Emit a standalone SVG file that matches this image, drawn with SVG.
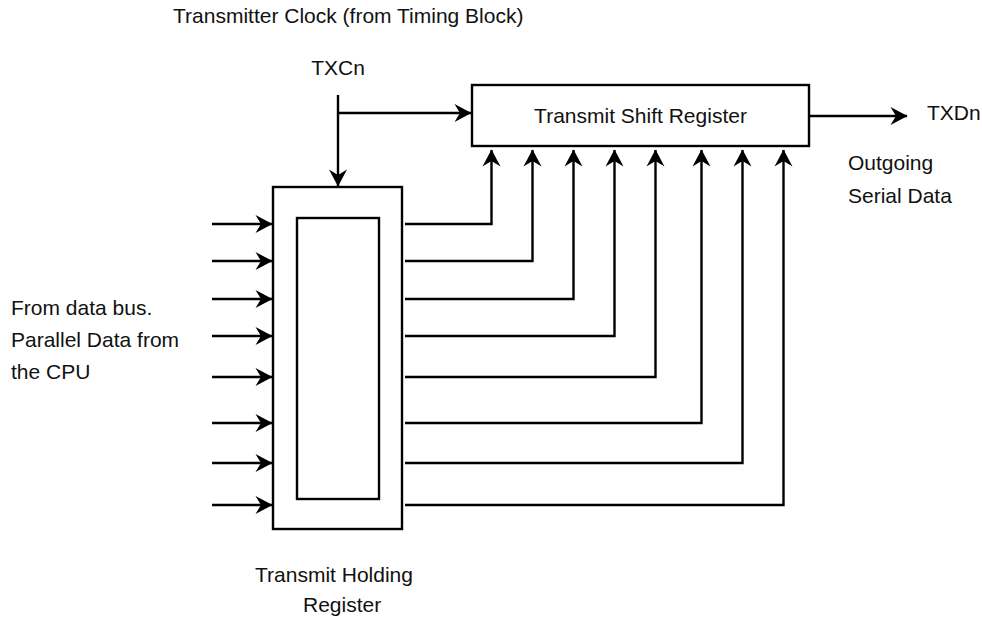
<svg xmlns="http://www.w3.org/2000/svg" width="982" height="618" viewBox="0 0 982 618">
<style>
  .box{fill:#fff;stroke:#000;stroke-width:2.4}
  .wire{fill:none;stroke:#000;stroke-width:2.4}
  .lbl{font-family:"Liberation Sans",Arial,sans-serif;font-size:21px;fill:#111}
</style>
<defs>
  <marker id="ah" viewBox="-18 -10 19 20" refX="0" refY="0" markerWidth="19" markerHeight="20" markerUnits="userSpaceOnUse" orient="auto">
    <path d="M0.5,0 L-16.5,-9 L-11,0 L-16.5,9 Z" fill="#000"/>
  </marker>
</defs>
<rect width="982" height="618" fill="#fff"/>

<g id="title">
  <text class="lbl" x="173" y="23">Transmitter Clock (from Timing Block)</text>
</g>
<g id="txcn">
  <text class="lbl" x="338" y="75" text-anchor="middle">TXCn</text>
</g>
<g id="shift-register">
  <rect class="box" x="472" y="85" width="337" height="61"/>
  <text class="lbl" x="640.5" y="123" text-anchor="middle">Transmit Shift Register</text>
</g>
<g id="holding-register">
  <rect class="box" x="273" y="187" width="129" height="342"/>
  <rect class="box" x="297" y="218" width="82" height="281"/>
  <text class="lbl" x="255" y="582">Transmit Holding</text>
  <text class="lbl" x="303" y="612">Register</text>
</g>
<g id="txdn">
  <text class="lbl" x="927" y="120">TXDn</text>
  <text class="lbl" x="848" y="170">Outgoing</text>
  <text class="lbl" x="848" y="203">Serial Data</text>
</g>
<g id="data-bus">
  <text class="lbl" x="11" y="315">From data bus.</text>
  <text class="lbl" x="11" y="347">Parallel Data from</text>
  <text class="lbl" x="11" y="379">the CPU</text>
</g>

<g id="connectors">
  <path class="wire" d="M338,95 V186" marker-end="url(#ah)"/>
  <path class="wire" d="M338,113 H471" marker-end="url(#ah)"/>
  <path class="wire" d="M809,116 H907" marker-end="url(#ah)"/>

  <path class="wire" d="M212,224 H272" marker-end="url(#ah)"/>
  <path class="wire" d="M212,261 H272" marker-end="url(#ah)"/>
  <path class="wire" d="M212,299 H272" marker-end="url(#ah)"/>
  <path class="wire" d="M212,336 H272" marker-end="url(#ah)"/>
  <path class="wire" d="M212,377 H272" marker-end="url(#ah)"/>
  <path class="wire" d="M212,423 H272" marker-end="url(#ah)"/>
  <path class="wire" d="M212,463 H272" marker-end="url(#ah)"/>
  <path class="wire" d="M212,505 H272" marker-end="url(#ah)"/>

  <path class="wire" d="M405,224 H491.5 V150" marker-end="url(#ah)"/>
  <path class="wire" d="M405,261 H532.5 V150" marker-end="url(#ah)"/>
  <path class="wire" d="M405,299 H573.5 V150" marker-end="url(#ah)"/>
  <path class="wire" d="M405,336 H614.5 V150" marker-end="url(#ah)"/>
  <path class="wire" d="M405,377 H655.5 V150" marker-end="url(#ah)"/>
  <path class="wire" d="M405,423 H701.5 V150" marker-end="url(#ah)"/>
  <path class="wire" d="M405,463 H742.5 V150" marker-end="url(#ah)"/>
  <path class="wire" d="M405,505 H783.5 V150" marker-end="url(#ah)"/>
</g>
</svg>
